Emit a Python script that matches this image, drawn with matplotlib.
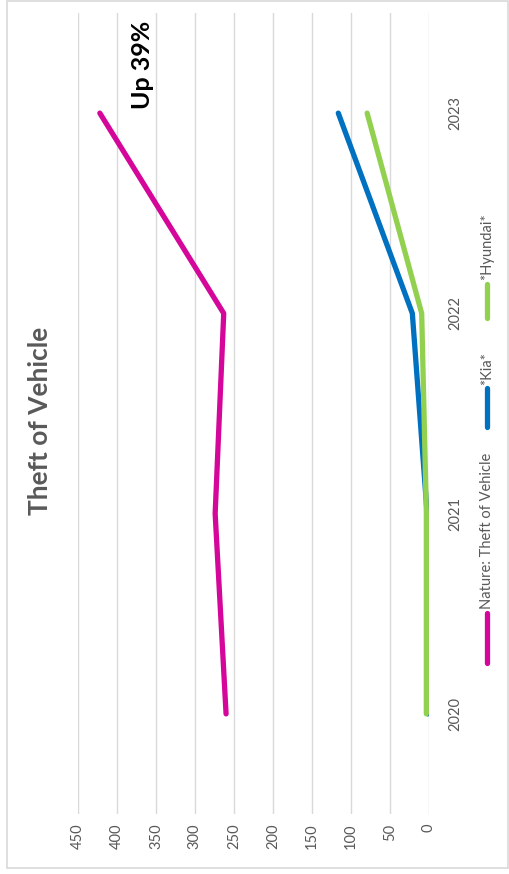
import matplotlib.pyplot as plt
from matplotlib.lines import Line2D
from matplotlib.patches import Rectangle

plt.rcParams['font.family'] = ['Lato', 'DejaVu Sans']

# データ
years = ['2020', '2021', '2022', '2023']
theft = [260, 274, 263, 422]
kia = [1, 2, 21, 116]
hyundai = [3, 3, 9, 79]
series_names = ['Nature: Theft of Vehicle', '*Kia*', '*Hyundai*']
series_colors = ['#D5069A', '#0070C0', '#92D050']
value_ticks = list(range(0, 451, 50))

W, H = 509, 874
fig = plt.figure(figsize=(W / 100, H / 100), dpi=100)

# 外枠
fig.add_artist(Rectangle((7 / W, 6 / H), 1 - 7 / W - 1 / W, 1 - 6 / H - 1 / H,
                         transform=fig.transFigure, fill=False,
                         edgecolor='#D9D9D9', linewidth=1.2))

# グラフは90度回転している（値は横、年は縦）
ax = fig.add_axes([78 / W, 60 / H, (428.7 - 78) / W, (814 - 13) / H])
pos = list(range(len(years)))
for vals, color in zip([theft, kia, hyundai], series_colors):
    ax.plot(vals, pos, color=color, linewidth=3.8, solid_capstyle='round')

ax.set_xlim(450, 0)
ax.set_ylim(-0.5, 3.5)
ax.set_xticks(value_ticks)
ax.set_xticklabels([str(v) for v in value_ticks], rotation=90, color='#595959', fontsize=10.5)
ax.set_yticks(pos)
ax.set_yticklabels(years, rotation=90, color='#595959', fontsize=10.5, va='center')
ax.yaxis.tick_right()
ax.tick_params(axis='x', length=0, pad=7)
ax.tick_params(axis='y', length=0, pad=14)
ax.grid(axis='x', color='#D9D9D9', linewidth=1)
ax.set_axisbelow(True)
for s in ax.spines.values():
    s.set_visible(False)

# タイトル
fig.text(40 / W, 1 - 421 / H, 'Theft of Vehicle', rotation=90, color='#595959',
         fontsize=19, fontweight='bold', ha='center', va='center')

# 注記
fig.text(142 / W, 1 - 65 / H, 'Up 39%', rotation=90, color='black',
         fontsize=18, fontweight='bold', ha='center', va='center')

# 凡例（回転）
leg_x = 487 / W
leg_items = [(613, 663, 609), (388, 427, 385), (284, 318, 280)]
for (y0, y1, yt), name, color in zip(leg_items, series_names, series_colors):
    fig.add_artist(Line2D([leg_x, leg_x], [1 - y0 / H, 1 - y1 / H],
                          transform=fig.transFigure, color=color,
                          linewidth=3.8, solid_capstyle='round'))
    fig.text(leg_x, 1 - yt / H, name, rotation=90, color='#595959',
             fontsize=10.5, ha='center', va='bottom')

plt.savefig('out.png', dpi=100)
